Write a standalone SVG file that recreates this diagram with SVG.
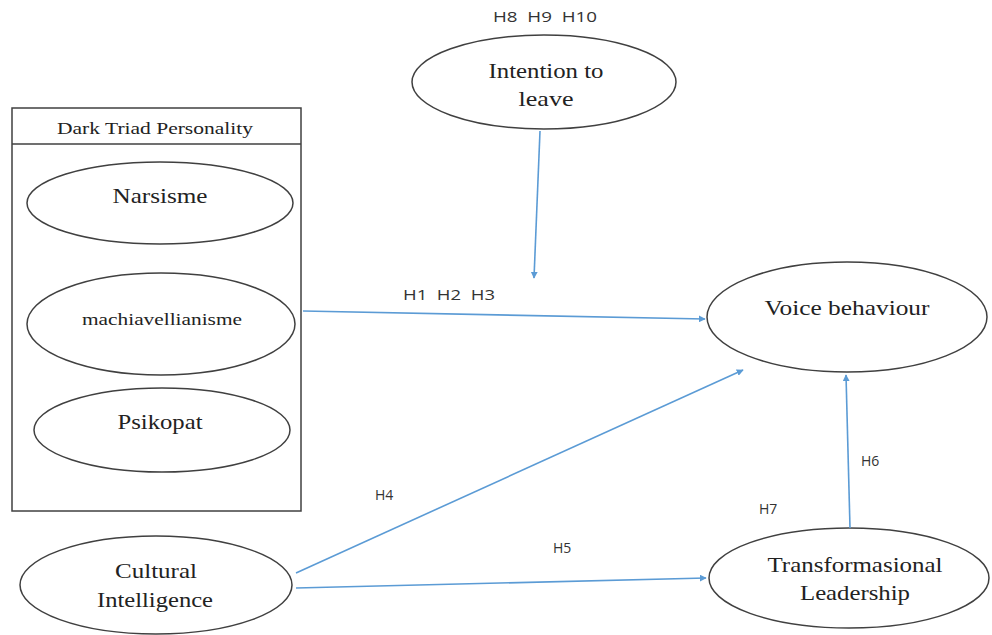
<svg xmlns="http://www.w3.org/2000/svg" width="992" height="635" viewBox="0 0 992 635">
<style>
.n{fill:#fff;stroke:#404040;stroke-width:1.5}
.t{font-family:"Liberation Serif","Times New Roman",serif;font-size:22px;fill:#222;text-anchor:middle}
.s{font-size:17px}
.h{font-family:"Open Sans","Liberation Sans",sans-serif;font-size:14px;fill:#333}
.c{stroke:#5B9BD5;stroke-width:1.6;fill:none;marker-end:url(#a)}
</style>
<defs>
<marker id="a" viewBox="0 0 10 10" refX="9" refY="5" markerWidth="7" markerHeight="7" orient="auto" markerUnits="userSpaceOnUse">
<path d="M0,0 L10,5 L0,10 z" fill="#5B9BD5"/>
</marker>
</defs>
<rect width="992" height="635" fill="#fff"/>
<g id="dark-triad">
<rect x="12" y="108" width="289" height="403" fill="#fff" stroke="#404040" stroke-width="1.5"/>
<line x1="12" y1="144" x2="301" y2="144" stroke="#404040" stroke-width="1.5"/>
<text x="155" y="134" class="t s" textLength="196" lengthAdjust="spacingAndGlyphs">Dark Triad Personality</text>
</g>
<g id="narsisme">
<ellipse cx="160" cy="203" rx="133" ry="41" class="n"/>
<text x="160" y="203" class="t" textLength="95" lengthAdjust="spacingAndGlyphs">Narsisme</text>
</g>
<g id="machiavellianisme">
<ellipse cx="161" cy="324" rx="134" ry="51" class="n"/>
<text x="162" y="325" class="t s" textLength="160" lengthAdjust="spacingAndGlyphs">machiavellianisme</text>
</g>
<g id="psikopat">
<ellipse cx="162" cy="430" rx="128" ry="42" class="n"/>
<text x="160" y="429" class="t" textLength="85" lengthAdjust="spacingAndGlyphs">Psikopat</text>
</g>
<g id="intention">
<ellipse cx="544" cy="82" rx="132" ry="47" class="n"/>
<text x="546" y="78" class="t" textLength="115" lengthAdjust="spacingAndGlyphs">Intention to</text>
<text x="546" y="106" class="t" textLength="55" lengthAdjust="spacingAndGlyphs">leave</text>
</g>
<g id="voice">
<ellipse cx="847" cy="317" rx="140" ry="55" class="n"/>
<text x="847" y="315" class="t" textLength="165" lengthAdjust="spacingAndGlyphs">Voice behaviour</text>
</g>
<g id="cultural">
<ellipse cx="156" cy="585" rx="136" ry="49" class="n"/>
<text x="156" y="578" class="t" textLength="82" lengthAdjust="spacingAndGlyphs">Cultural</text>
<text x="155" y="607" class="t" textLength="116" lengthAdjust="spacingAndGlyphs">Intelligence</text>
</g>
<g id="transformasional">
<ellipse cx="849" cy="578" rx="140" ry="50" class="n"/>
<text x="855" y="572" class="t" textLength="175" lengthAdjust="spacingAndGlyphs">Transformasional</text>
<text x="855" y="600" class="t" textLength="110" lengthAdjust="spacingAndGlyphs">Leadership</text>
</g>
<g id="connectors">
<line x1="540" y1="131" x2="534" y2="278" class="c"/>
<line x1="303" y1="311" x2="705" y2="319" class="c"/>
<line x1="296" y1="573" x2="743" y2="370" class="c"/>
<line x1="296" y1="588" x2="706" y2="578" class="c"/>
<line x1="850" y1="528" x2="846" y2="375" class="c"/>
</g>
<g id="labels">
<text x="493" y="22" class="h" xml:space="preserve" textLength="104" lengthAdjust="spacingAndGlyphs">H8  H9  H10</text>
<text x="403" y="300" class="h" xml:space="preserve" textLength="92" lengthAdjust="spacingAndGlyphs">H1  H2  H3</text>
<text x="375" y="500" class="h">H4</text>
<text x="553" y="553" class="h">H5</text>
<text x="861" y="466" class="h">H6</text>
<text x="759" y="514" class="h">H7</text>
</g>
</svg>
